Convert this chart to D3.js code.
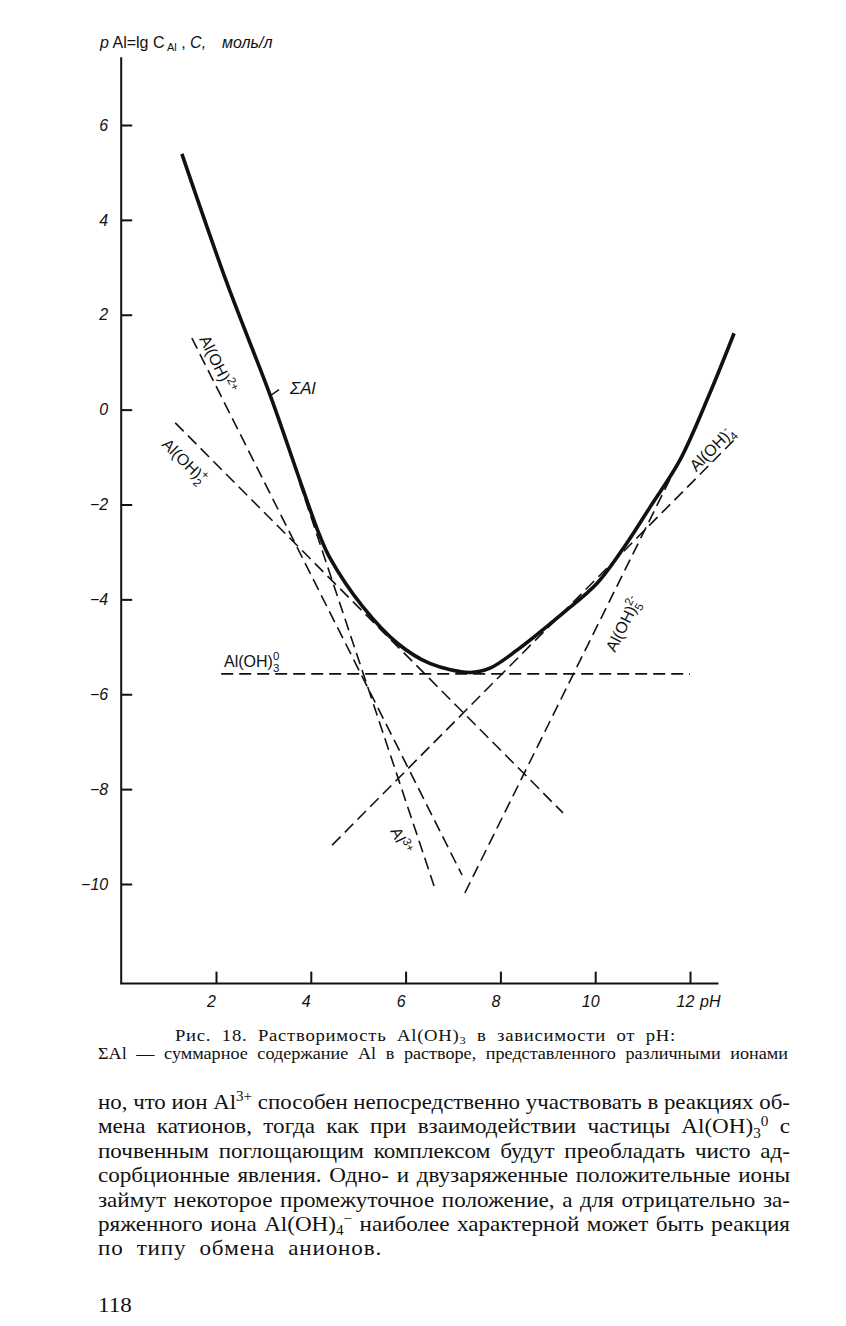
<!DOCTYPE html>
<html>

<head>
  <meta charset="utf-8">
  <title>Рис. 18. Растворимость Al(OH)3</title>
  <script src="https://cdn.jsdelivr.net/npm/d3@7/dist/d3.min.js"></script>
  <style>
    body {
      margin: 0;
      background: #fff;
    }

    svg {
      display: block;
    }

    .axis line,
    .axisline {
      stroke: #111;
      stroke-width: 2;
    }

    .axis text {
      font-family: "Liberation Sans", "DejaVu Sans", sans-serif;
      font-style: italic;
      font-size: 16px;
      fill: #111;
    }

    .species {
      fill: none;
      stroke: #111;
      stroke-width: 1.6;
      stroke-dasharray: 12 6;
    }

    .sum {
      fill: none;
      stroke: #111;
      stroke-width: 3.6;
    }

    .lbl {
      font-family: "Liberation Sans", "DejaVu Sans", sans-serif;
      font-size: 16px;
      fill: #111;
    }

    .page {
      font-family: "Liberation Serif", "DejaVu Serif", serif;
      fill: #111;
    }
  </style>
</head>

<body>
  <svg id="fig" width="846" height="1326"></svg>

  <script>
    // axis ticks
    var phTicks = [2, 4, 6, 8, 10, 12];
    var pAlTicks = [6, 4, 2, 0, -2, -4, -6, -8, -10];

    // axis extents (data units)
    var phMin = 0, phMax = 12.6;
    var pAlMin = -12.1, pAlMax = 7.43;

    // dashed straight lines for each species
    var species = ['Al3+', 'AlOH2+', 'Al(OH)2+', 'Al(OH)3', 'Al(OH)4-', 'Al(OH)5 2-'];
    var startPH = [3.76, 1.49, 1.14, 2.11, 4.45, 7.25];
    var startLg = [-1.53, 1.51, -0.28, -5.57, -9.18, -10.19];
    var endPH = [6.60, 7.19, 9.32, 12.00, 13.01, 11.64];
    var endLg = [-10.04, -9.81, -8.50, -5.57, -0.56, -1.34];

    // total dissolved Al (thick curve)
    var sumPH = [1.28, 2.23, 3.14, 3.71, 4.00, 4.19, 4.40, 5.10, 5.82, 6.51, 7.36, 7.78, 8.35, 9.32, 10.04, 10.67, 11.16, 11.79, 12.42, 12.93];
    var sumLg = [5.39, 2.67, 0.31, -1.32, -2.15, -2.66, -3.12, -4.16, -4.92, -5.35, -5.54, -5.45, -5.07, -4.29, -3.66, -2.81, -2.05, -1.06, 0.35, 1.61];

    var svg = d3.select('#fig');

    var x = d3.scaleLinear().domain([2, 12]).range([216, 690]);
    var y = d3.scaleLinear().domain([6, -10]).range([125, 884]);

    // axes lines
    svg.append('line').attr('class', 'axisline')
      .attr('x1', x(phMin)).attr('x2', x(phMin))
      .attr('y1', y(pAlMax)).attr('y2', y(pAlMin));
    svg.append('line').attr('class', 'axisline')
      .attr('x1', x(phMin) - 1).attr('x2', x(phMax))
      .attr('y1', y(pAlMin)).attr('y2', y(pAlMin));

    var yAxis = d3.axisLeft(y)
      .tickValues(pAlTicks)
      .tickSizeInner(-11)
      .tickSizeOuter(0)
      .tickPadding(13)
      .tickFormat(d3.format('d'));

    var gy = svg.append('g').attr('class', 'axis')
      .attr('transform', 'translate(' + x(phMin) + ',0)')
      .call(yAxis);
    gy.select('.domain').remove();

    var xAxis = d3.axisBottom(x)
      .tickValues(phTicks)
      .tickSizeInner(-12)
      .tickSizeOuter(0)
      .tickPadding(12)
      .tickFormat(d3.format('d'));

    var gx = svg.append('g').attr('class', 'axis')
      .attr('transform', 'translate(0,' + y(pAlMin) + ')')
      .call(xAxis);
    gx.select('.domain').remove();
    gx.selectAll('text').attr('dx', -5);

    gx.append('text')
      .attr('x', x(12) + 10)
      .attr('y', 12)
      .attr('dy', '0.71em')
      .attr('text-anchor', 'start')
      .text('pH');

    // y axis title
    var title = svg.append('text').attr('class', 'lbl')
      .attr('x', 100).attr('y', 48);
    title.append('tspan').style('font-style', 'italic').text('p');
    title.append('tspan').text(' Al=lg C');
    title.append('tspan').attr('dy', 3).style('font-size', '11px').text(' Al');
    title.append('tspan').attr('dy', -3).text(' , ');
    title.append('tspan').style('font-style', 'italic').text('C,');
    title.append('tspan').attr('dx', 16).style('font-style', 'italic').text('моль/л');

    // species lines
    svg.selectAll('line.species')
      .data(species)
      .enter()
      .append('line')
      .attr('class', 'species')
      .attr('x1', (d, i) => x(startPH[i]))
      .attr('y1', (d, i) => y(startLg[i]))
      .attr('x2', (d, i) => x(endPH[i]))
      .attr('y2', (d, i) => y(endLg[i]));

    // total curve
    var line = d3.line()
      .x(d => x(d[0]))
      .y(d => y(d[1]))
      .curve(d3.curveCatmullRom.alpha(0.5));

    svg.append('path')
      .attr('class', 'sum')
      .attr('d', line(d3.zip(sumPH, sumLg)));

    // writes text with sub/superscripts; stack puts sup over the preceding sub
    function chem(text, segs, fs, sub, sup, rel) {
      var shift = 0, prev = null;
      segs.forEach(function (s) {
        var target = s.s === 'sub' ? fs * sub : s.s === 'sup' ? -fs * sup : 0;
        var ts = text.append('tspan').text(s.t);
        if (target - shift !== 0) ts.attr('dy', target - shift);
        if (s.s) ts.style('font-size', (fs * rel) + 'px');
        if (s.stack && prev) ts.attr('dx', -prev.node().getComputedTextLength());
        shift = target;
        prev = ts;
      });
    }

    function label(ph, lg, angle, segs) {
      var t = svg.append('text').attr('class', 'lbl')
        .attr('transform', 'translate(' + x(ph) + ',' + y(lg) + ') rotate(' + angle + ')');
      chem(t, segs, 16, 0.3, 0.42, 0.72);
      return t;
    }

    label(1.64, 1.49, 63.4, [{ t: 'Al(OH)' }, { t: '2+', s: 'sup' }]);
    label(0.84, -0.75, 45, [{ t: 'Al(OH)' }, { t: '2', s: 'sub' }, { t: '+', s: 'sup', stack: true }]);
    label(2.17, -5.43, 0, [{ t: 'Al(OH)' }, { t: '3', s: 'sub' }, { t: '0', s: 'sup', stack: true }]);
    label(5.67, -8.88, 64, [{ t: 'Al' }, { t: '3+', s: 'sup' }]);
    label(10.42, -5.13, -63.4, [{ t: 'Al(OH)' }, { t: '5', s: 'sub' }, { t: '2-', s: 'sup', stack: true }]);
    label(12.13, -1.32, -45, [{ t: 'Al(OH)' }, { t: '4', s: 'sub' }, { t: '-', s: 'sup', stack: true }]);

    // ΣAl label with pointer
    svg.append('line')
      .attr('x1', x(3.14)).attr('y1', y(0.29))
      .attr('x2', x(3.33)).attr('y2', y(0.42))
      .attr('stroke', '#111').attr('stroke-width', 1.4);
    svg.append('text').attr('class', 'lbl')
      .attr('x', x(3.56)).attr('y', y(0.33))
      .style('font-size', '17px').style('font-style', 'italic')
      .text('ΣAl');

    // caption and page text, glyphs widened a little to match the book face
    var widen = 1.1;

    function pageLine(segs, x0, baseline, fs, width, mode) {
      var g = svg.append('g')
        .attr('transform', 'translate(' + x0 + ',' + baseline + ') scale(' + widen + ',1)');
      var t = g.append('text').attr('class', 'page')
        .style('font-size', fs + 'px');
      chem(t, segs, fs, 0.2, 0.36, 0.66);
      if (!width) return t;
      var target = width / widen;
      var natural = t.node().getComputedTextLength();
      var str = segs.map(s => s.t).join('');
      var spaces = str.split(' ').length - 1;
      var extra = target - natural;
      if (extra < 0) {
        t.attr('textLength', target).attr('lengthAdjust', 'spacingAndGlyphs');
      } else if (mode === 'mix') {
        t.style('letter-spacing', (extra * 0.5 / str.length) + 'px')
          .style('word-spacing', (extra * 0.5 / spaces) + 'px');
      } else {
        t.style('word-spacing', (extra / spaces) + 'px');
      }
      return t;
    }

    pageLine([{ t: 'Рис. 18. Растворимость Al(OH)' }, { t: '3', s: 'sub' }, { t: ' в зависимости от pH:' }], 175, 1041, 17, 501, 'mix');
    pageLine([{ t: 'ΣAl — суммарное содержание Al в растворе, представленного различными ионами' }], 98, 1059, 16.5, 690);

    var body = [
      [{ t: 'но, что ион Al' }, { t: '3+', s: 'sup' }, { t: ' способен непосредственно участвовать в реакциях об-' }],
      [{ t: 'мена катионов, тогда как при взаимодействии частицы Al(OH)' }, { t: '3', s: 'sub' }, { t: '0', s: 'sup' }, { t: ' с' }],
      [{ t: 'почвенным поглощающим комплексом будут преобладать чисто ад-' }],
      [{ t: 'сорбционные явления. Одно- и двузаряженные положительные ионы' }],
      [{ t: 'займут некоторое промежуточное положение, а для отрицательно за-' }],
      [{ t: 'ряженного иона Al(OH)' }, { t: '4', s: 'sub' }, { t: '−', s: 'sup' }, { t: ' наиболее характерной может быть реакция' }]
    ];
    body.forEach(function (segs, i) {
      pageLine(segs, 98, 1109 + i * 24.4, 21, 692);
    });
    pageLine([{ t: 'по типу обмена анионов.' }], 98, 1109 + 6 * 24.4, 21, 284, 'mix');

    pageLine([{ t: '118' }], 98, 1312, 21);
  </script>
</body>

</html>
